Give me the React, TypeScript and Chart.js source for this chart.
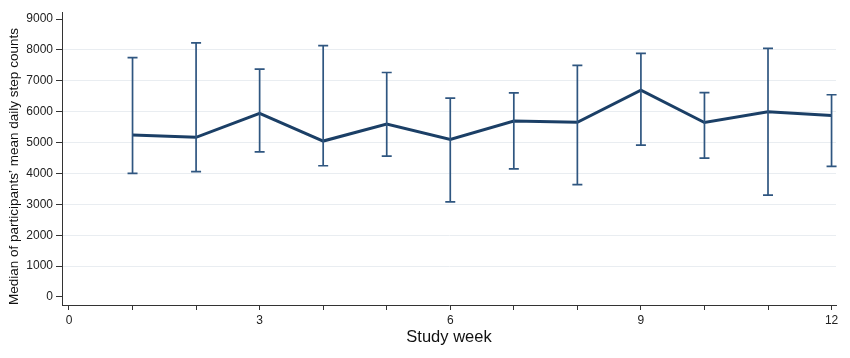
import React, { useEffect, useRef } from "react";
import { Chart, registerables } from "chart.js";

Chart.register(...registerables);

const weeks = [1, 2, 3, 4, 5, 6, 7, 8, 9, 10, 11, 12];
const medianSteps = [5250, 5170, 5950, 5050, 5600, 5100, 5700, 5660, 6700, 5650, 6000, 5880];
const lowerSteps = [4000, 4060, 4700, 4250, 4560, 3080, 4150, 3640, 4920, 4500, 3300, 4230];
const upperSteps = [7750, 8230, 7380, 8140, 7270, 6440, 6610, 7500, 7890, 6620, 8050, 6550];
const yTickValues = [0, 1000, 2000, 3000, 4000, 5000, 6000, 7000, 8000, 9000];
const xTickValues = [0, 1, 2, 3, 4, 5, 6, 7, 8, 9, 10, 11, 12];
const xLabelledTicks = [0, 3, 6, 9, 12];
const yTitle = "Median of participants\u2019 mean daily step counts";
const xTitle = "Study week";

const FONT = "'Liberation Sans', Arial, Helvetica, sans-serif";

const errorBarPlugin = {
  id: "errorBars",
  afterDatasetsDraw(chart: any) {
    const { ctx, scales } = chart;
    const xs = scales.x;
    const ys = scales.y;
    ctx.save();
    ctx.strokeStyle = "#2f5680";
    ctx.lineWidth = 1.7;
    const cap = 5;
    weeks.forEach((w, i) => {
      const px = xs.getPixelForValue(w);
      const lo = ys.getPixelForValue(lowerSteps[i]);
      const hi = ys.getPixelForValue(upperSteps[i]);
      ctx.beginPath();
      ctx.moveTo(px, lo);
      ctx.lineTo(px, hi);
      ctx.moveTo(px - cap, lo);
      ctx.lineTo(px + cap, lo);
      ctx.moveTo(px - cap, hi);
      ctx.lineTo(px + cap, hi);
      ctx.stroke();
    });
    ctx.restore();
  },
};

export default function App() {
  const ref = useRef<HTMLCanvasElement | null>(null);
  useEffect(() => {
    if (!ref.current) return;
    const chart = new Chart(ref.current, {
      type: "line",
      data: {
        datasets: [
          {
            data: weeks.map((w, i) => ({ x: w, y: medianSteps[i] })),
            borderColor: "#1b3f66",
            borderWidth: 3,
            pointRadius: 0,
            fill: false,
            tension: 0,
          },
        ],
      },
      options: {
        responsive: false,
        animation: false,
        layout: { padding: { top: 12, right: 14, left: 0, bottom: 0 } },
        plugins: { legend: { display: false }, tooltip: { enabled: false } },
        scales: {
          x: {
            type: "linear",
            min: -0.11,
            max: 12.07,
            afterBuildTicks: (scale: any) => {
              scale.ticks = xTickValues.map((v) => ({ value: v }));
            },
            afterFit: (scale: any) => {
              scale.height = 53;
            },
            ticks: {
              autoSkip: false,
              maxRotation: 0,
              padding: 3,
              color: "#222",
              font: { family: FONT, size: 12 },
              callback: (v: any) => (xLabelledTicks.includes(Number(v)) ? String(v) : ""),
            },
            grid: { drawOnChartArea: false, drawTicks: true, tickLength: 5, tickColor: "#333" },
            border: { color: "#333", width: 1 },
            title: {
              display: true,
              text: xTitle,
              color: "#111",
              font: { family: FONT, size: 16.5 },
              padding: { top: 0, bottom: 11 },
            },
          },
          y: {
            type: "linear",
            min: -260,
            max: 9230,
            afterBuildTicks: (scale: any) => {
              scale.ticks = yTickValues.map((v) => ({ value: v }));
            },
            afterFit: (scale: any) => {
              scale.width = 62;
            },
            ticks: {
              padding: 3,
              color: "#222",
              font: { family: FONT, size: 12 },
              callback: (v: any) => String(v),
            },
            grid: {
              drawTicks: true,
              tickLength: 6,
              tickColor: "#333",
              lineWidth: 1,
              color: (ctx: any) => {
                const v = ctx.tick ? ctx.tick.value : 0;
                return v > 0 && v < 9000 ? "#e9edf1" : "rgba(0,0,0,0)";
              },
            },
            border: { color: "#333", width: 1 },
            title: {
              display: true,
              text: yTitle,
              align: "start",
              color: "#111",
              font: { family: FONT, size: 13.5 },
              padding: { top: 6, bottom: 0 },
            },
          },
        },
      },
      plugins: [errorBarPlugin],
    } as any);
    return () => chart.destroy();
  }, []);
  return (
    <div style={{ position: "fixed", left: 0, top: 0, width: 850, height: 358, background: "#fff" }}>
      <canvas ref={ref} width={850} height={358} style={{ width: 850, height: 358 }} />
    </div>
  );
}
